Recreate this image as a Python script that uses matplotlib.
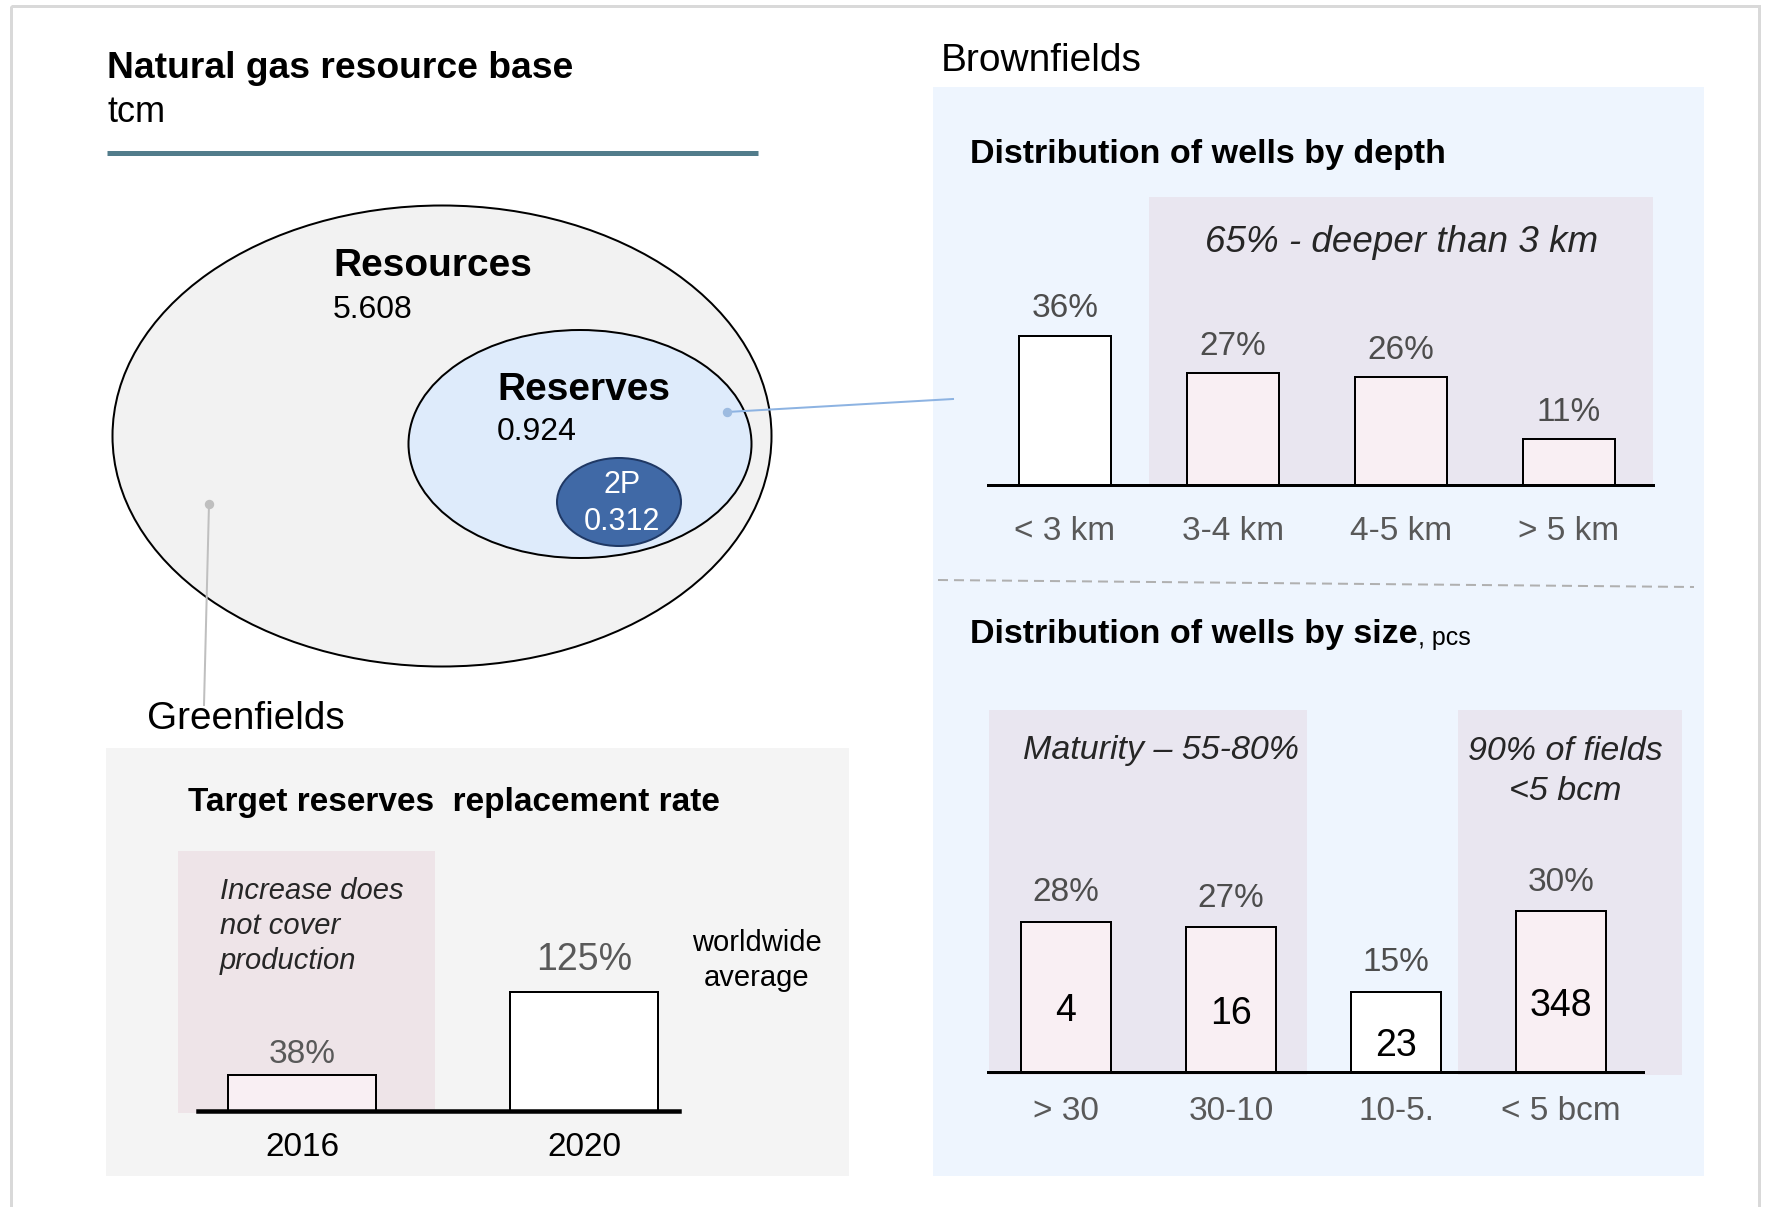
# Natural gas resource base infographic: resource ellipses, greenfields and brownfields bar charts
import matplotlib
matplotlib.use("Agg")
import matplotlib.pyplot as plt
from matplotlib.patches import Rectangle, Ellipse

plt.rcParams['font.family'] = ['Liberation Sans', 'DejaVu Sans']

# data
resource_names = ['Resources', 'Reserves', '2P']
resource_values = [5.608, 0.924, 0.312]

rr_years = ['2016', '2020']
rr_values = [38, 125]

depth_labels = ['< 3 km', '3-4 km', '4-5 km', '> 5 km']
depth_share = [36, 27, 26, 11]

size_labels = ['> 30', '30-10', '10-5.', '< 5 bcm']
size_share = [28, 27, 15, 30]
size_count = [4, 16, 23, 348]

W, H = 1768, 1207
PT = 0.72  # points per pixel at dpi 100

fig = plt.figure(figsize=(W / 100, H / 100), dpi=100)
bg = fig.add_axes([0, 0, 1, 1])
bg.set_xlim(0, W)
bg.set_ylim(H, 0)
bg.axis('off')


def px_axes(x0, y0, x1, y1):
    ax = fig.add_axes([x0 / W, 1 - y1 / H, (x1 - x0) / W, (y1 - y0) / H])
    ax.set_facecolor('none')
    ax.axis('off')
    return ax


# outer frame
bg.add_patch(Rectangle((11, 6), 1748, 1215, fill=False, ec='#d9d9d9', lw=3 * PT))

# ---- left: resource base ----
bg.text(107, 69, 'Natural gas resource base', fontsize=26.8, fontweight='bold', va='center')
bg.text(107, 113, 'tcm', fontsize=26, va='center')
bg.plot([107, 758], [153, 153], color='#527c8b', lw=5 * PT, solid_capstyle='butt')

bg.add_patch(Ellipse((442, 436), 659, 461, fc='#f2f2f2', ec='black', lw=2 * PT))
bg.add_patch(Ellipse((580, 444), 343, 228, fc='#deebfb', ec='black', lw=2 * PT))
bg.add_patch(Ellipse((619, 502), 124, 88, fc='#4069a6', ec='#1f3864', lw=2 * PT))

bg.text(333, 266, resource_names[0], fontsize=28, fontweight='bold', va='center')
bg.text(333, 310, f'{resource_values[0]:.3f}', fontsize=23, va='center')
bg.text(497, 390, resource_names[1], fontsize=28, fontweight='bold', va='center')
bg.text(497, 432, f'{resource_values[1]:.3f}', fontsize=23, va='center')
bg.text(622, 485, resource_names[2], fontsize=22, color='white', ha='center', va='center')
bg.text(622, 522, f'{resource_values[2]:.3f}', fontsize=22, color='white', ha='center', va='center')

# connectors
bg.plot([209, 204], [504, 705], color='#bfbfbf', lw=2 * PT, zorder=5)
bg.plot([209], [504], 'o', color='#bfbfbf', ms=8 * PT, zorder=5)
bg.text(147, 719, 'Greenfields', fontsize=27.8, va='center')

# ---- greenfields panel ----
bg.add_patch(Rectangle((106, 748), 743, 428, fc='#f4f4f4', ec='none'))
bg.add_patch(Rectangle((178, 851), 257, 262, fc='#eee4e8', ec='none'))
bg.text(188, 802, 'Target reserves  replacement rate', fontsize=24, fontweight='bold', va='center')
for i, line in enumerate(['Increase does', 'not cover', 'production']):
    bg.text(220, 891 + 35 * i, line, fontsize=21, style='italic', color='#262626', va='center')
bg.text(757, 943, 'worldwide', fontsize=21, ha='center', va='center')
bg.text(757, 978, 'average', fontsize=21, ha='center', va='center')

gx0, gx1, gy0, gy1 = 198, 679, 851, 1111
gc0, gstep = 302, 282
ax_g = px_axes(gx0, gy0, gx1, gy1)
ax_g.set_xlim((gx0 - gc0) / gstep, (gx1 - gc0) / gstep)
ax_g.set_ylim(0, (gy1 - gy0) / 0.952)
xs = range(len(rr_values))
ax_g.bar(xs, rr_values, width=0.528, color=['#f9eff3', 'white'], edgecolor='black',
         linewidth=2 * PT, clip_on=False, zorder=2)
ax_g.axhline(0, color='black', lw=4.5 * PT, clip_on=False, zorder=3)
rr_label_sizes = [24, 27]
rr_label_offsets = [20, 32]
for i, v in enumerate(rr_values):
    ax_g.annotate(f'{v}%', (i, v), xytext=(0, rr_label_offsets[i] * PT), textcoords='offset points',
                  ha='center', va='center', fontsize=rr_label_sizes[i], color='#595959')
    ax_g.annotate(rr_years[i], (i, 0), xytext=(0, -37 * PT), textcoords='offset points',
                  ha='center', va='center', fontsize=24, color='black')

# ---- brownfields panel ----
bg.text(941, 61, 'Brownfields', fontsize=28, va='center')
bg.add_patch(Rectangle((933, 87), 771, 1089, fc='#eef5fe', ec='none'))

# wells by depth
bg.text(970, 154, 'Distribution of wells by depth', fontsize=24.5, fontweight='bold', va='center')
bg.add_patch(Rectangle((1149, 197), 504, 288, fc='#e9e6f0', ec='none'))
bg.text(1402, 242, '65% - deeper than 3 km', fontsize=26.5, style='italic', color='#262626',
        ha='center', va='center')

dx0, dx1, dy0, dy1 = 988, 1653, 197, 485
dc0, dstep = 1065, 168
ax_d = px_axes(dx0, dy0, dx1, dy1)
ax_d.set_xlim((dx0 - dc0) / dstep, (dx1 - dc0) / dstep)
ax_d.set_ylim(0, (dy1 - dy0) / 4.14)
xs = range(len(depth_share))
ax_d.bar(xs, depth_share, width=0.548, color=['white', '#f9eff3', '#f9eff3', '#f9eff3'],
         edgecolor='black', linewidth=2 * PT, clip_on=False, zorder=2)
ax_d.axhline(0, color='black', lw=3 * PT, clip_on=False, zorder=3)
for i, v in enumerate(depth_share):
    ax_d.annotate(f'{v}%', (i, v), xytext=(0, 27 * PT), textcoords='offset points',
                  ha='center', va='center', fontsize=24, color='#4d4d4d')
    ax_d.annotate(depth_labels[i], (i, 0), xytext=(0, -47 * PT), textcoords='offset points',
                  ha='center', va='center', fontsize=24, color='#595959')

bg.plot([938, 1694], [580, 587], color='#b0b0b0', lw=2 * PT, ls=(0, (5, 3)))

# wells by size
t = bg.text(970, 634, 'Distribution of wells by size', fontsize=24.5, fontweight='bold', va='center')
bg.annotate(', pcs', xy=(1, 0), xycoords=t, fontsize=18, va='bottom', ha='left')
bg.add_patch(Rectangle((989, 710), 318, 365, fc='#e9e6f0', ec='none'))
bg.add_patch(Rectangle((1458, 710), 224, 365, fc='#e9e6f0', ec='none'))
bg.text(1023, 751, 'Maturity – 55-80%', fontsize=24.5, style='italic', color='#262626', va='center')
bg.text(1565, 751, '90% of fields', fontsize=24.5, style='italic', color='#262626', ha='center', va='center')
bg.text(1565, 792, '<5 bcm', fontsize=24.5, style='italic', color='#262626', ha='center', va='center')

sx0, sx1, sy0, sy1 = 988, 1643, 710, 1072
sc0, sstep = 1066, 165
ax_s = px_axes(sx0, sy0, sx1, sy1)
ax_s.set_xlim((sx0 - sc0) / sstep, (sx1 - sc0) / sstep)
ax_s.set_ylim(0, (sy1 - sy0) / 5.36)
xs = range(len(size_share))
ax_s.bar(xs, size_share, width=0.54, color=['#f9eff3', '#f9eff3', 'white', '#f9eff3'],
         edgecolor='black', linewidth=2 * PT, clip_on=False, zorder=2)
ax_s.axhline(0, color='black', lw=3 * PT, clip_on=False, zorder=3)
for i, v in enumerate(size_share):
    ax_s.annotate(f'{v}%', (i, v), xytext=(0, 29 * PT), textcoords='offset points',
                  ha='center', va='center', fontsize=24, color='#4d4d4d')
    ax_s.annotate(str(size_count[i]), (i, v / 2), xytext=(0, -14 * PT), textcoords='offset points',
                  ha='center', va='center', fontsize=27, color='black')
    ax_s.annotate(size_labels[i], (i, 0), xytext=(0, -40 * PT), textcoords='offset points',
                  ha='center', va='center', fontsize=24, color='#595959')

# connector from reserves to brownfields
bg.plot([727, 953], [412, 399], color='#8db3e2', lw=2 * PT, zorder=6)
bg.plot([727], [412], 'o', color='#9dbbe0', ms=8 * PT, zorder=6)

fig.savefig('out.png', dpi=100)
